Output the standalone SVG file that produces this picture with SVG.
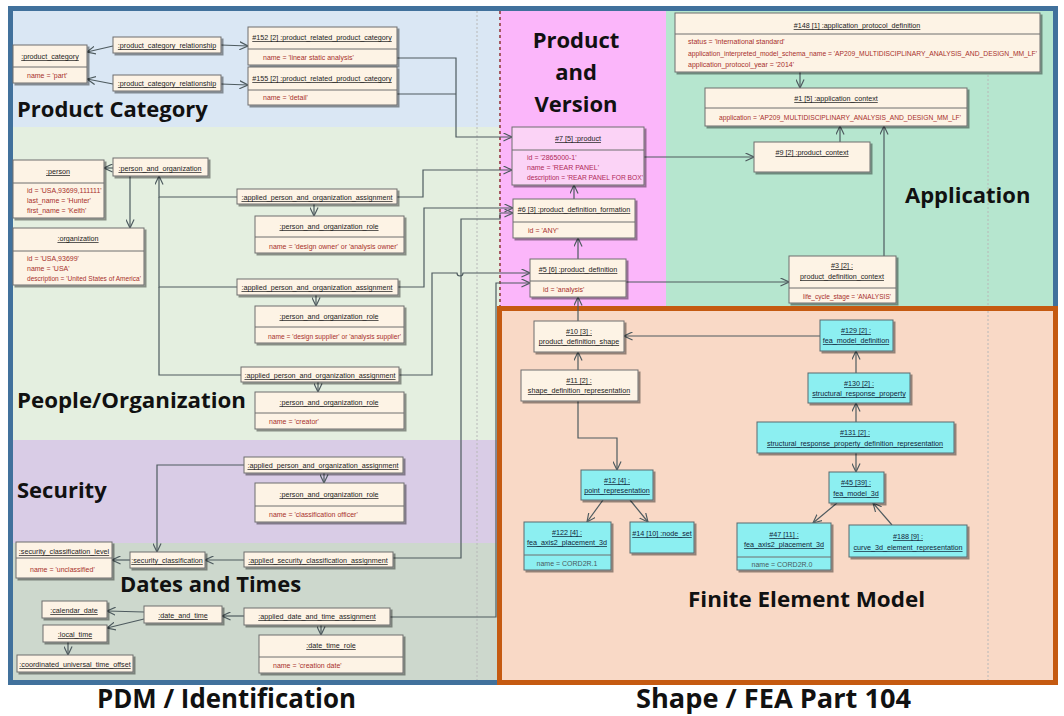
<svg xmlns="http://www.w3.org/2000/svg" width="1064" height="716" viewBox="0 0 1064 716">
<style>
.n{fill:#fdf3e5;stroke:#6e6e6e;stroke-width:1;filter:url(#sh)}
.nc{fill:#8ceff1;stroke:#5a6a6e;stroke-width:1;filter:url(#sh)}
.np{fill:#fbd3f6;stroke:#6e6e6e;stroke-width:1;filter:url(#sh)}
.sep{stroke:#6e6e6e;stroke-width:1}
.h{font-family:"Liberation Sans",Arial,sans-serif;font-size:7.2px;fill:#1c1c1c;text-anchor:middle;text-decoration:underline}
.hc{font-family:"Liberation Sans",Arial,sans-serif;font-size:7.2px;fill:#12243a;text-anchor:middle;text-decoration:underline}
.at{font-family:"Liberation Sans",Arial,sans-serif;font-size:7px;fill:#a8302c}
.atp{font-family:"Liberation Sans",Arial,sans-serif;font-size:7px;fill:#b02a5a}
.atc{font-family:"Liberation Sans",Arial,sans-serif;font-size:7px;fill:#4a5a60;text-anchor:middle}
.big{font-family:"Open Sans","Liberation Sans",sans-serif;font-weight:bold;font-size:22px;fill:#111}
.ft{font-family:"Open Sans","Liberation Sans",sans-serif;font-weight:bold;font-size:26px;fill:#111}
.cn path,.cn line{fill:none;stroke:#4e5b5f;stroke-width:1.2}
.ar{marker-end:url(#a)}
</style>
<defs>
<filter id="sh" x="-10%" y="-10%" width="130%" height="150%">
<feDropShadow dx="2" dy="2" stdDeviation="0.6" flood-color="#000" flood-opacity="0.4"/>
</filter>
<marker id="a" viewBox="0 0 10 10" refX="9.5" refY="5" markerWidth="9" markerHeight="9" orient="auto" markerUnits="userSpaceOnUse">
<path d="M0,0.5 L9.5,5 L0,9.5" fill="none" stroke="#4e5b5f" stroke-width="1.3"/>
</marker>
</defs>

<rect x="0" y="0" width="1064" height="716" fill="#ffffff"/>

<!-- bands -->
<g id="bands">
<rect x="10" y="9" width="490" height="118" fill="#dae7f4"/>
<rect x="10" y="127" width="490" height="313" fill="#e4efe0"/>
<rect x="10" y="440" width="490" height="103" fill="#d9cce6"/>
<rect x="10" y="543" width="490" height="140" fill="#cdd8cd"/>
<rect x="500" y="9" width="166" height="300" fill="#fbb6fa"/>
<rect x="666" y="9" width="390" height="300" fill="#b6e6cf"/>
<rect x="499" y="308" width="557" height="375" fill="#f9d9c6"/>
<line x1="477" y1="11" x2="477" y2="681" stroke="#b8b8b8" stroke-width="1" stroke-dasharray="2,2"/>
<line x1="988" y1="75" x2="988" y2="681" stroke="#b8b8b8" stroke-width="1" stroke-dasharray="2,2"/>
<line x1="500" y1="11" x2="500" y2="306" stroke="#a45a62" stroke-width="2" stroke-dasharray="3,3"/>
<rect x="10.5" y="8.5" width="1045" height="674" fill="none" stroke="#41719c" stroke-width="5"/>
<rect x="499.5" y="308.5" width="556" height="374" fill="none" stroke="#c55a11" stroke-width="5"/>
</g>

<!-- region labels -->
<g id="labels">
<text class="big" x="17" y="117">Product Category</text>
<text class="big" x="17" y="408" textLength="229" lengthAdjust="spacingAndGlyphs">People/Organization</text>
<text class="big" x="17" y="498">Security</text>
<text class="big" x="120" y="592">Dates and Times</text>
<text class="big" x="576" y="48" text-anchor="middle">Product</text>
<text class="big" x="576" y="80" text-anchor="middle">and</text>
<text class="big" x="576" y="112" text-anchor="middle">Version</text>
<text class="big" x="905" y="203">Application</text>
<text class="big" x="688" y="607" textLength="237" lengthAdjust="spacingAndGlyphs">Finite Element Model</text>
<text class="ft" x="97" y="708" textLength="259" lengthAdjust="spacingAndGlyphs">PDM / Identification</text>
<text class="ft" x="636" y="708" textLength="275" lengthAdjust="spacingAndGlyphs">Shape / FEA Part 104</text>
</g>

<!-- connectors -->
<g id="connectors" class="cn">
<path class="ar" d="M113,46 L87,52"/>
<path class="ar" d="M113,84 L87,79"/>
<path class="ar" d="M221,45 L248,46"/>
<path class="ar" d="M221,84 L248,85"/>
<path class="ar" d="M397,58 H456 V137 H512"/>
<path d="M397,94 H456"/>
<path class="ar" d="M113,168 L104,168"/>
<path class="ar" d="M130,176 V228"/>
<path class="ar" d="M237,197 H159 V176"/>
<path d="M237,287 H159 V197"/>
<path d="M241,375 H159 V287"/>
<path class="ar" d="M314,204 V216"/>
<path class="ar" d="M316,295 V306"/>
<path class="ar" d="M318,382 V392"/>
<path class="ar" d="M397,197 H423 V170 H512"/>
<path class="ar" d="M398,287 H424 V208 H513"/>
<path class="ar" d="M399,375 H432 V273 H457 A3,3 0 0 0 463,273 H530"/>
<path class="ar" d="M393,558 H461 V219 H500 V213 H513"/>
<path class="ar" d="M390,617 H496 V283 H530"/>
<path class="ar" d="M244,465 H157 V552"/>
<path class="ar" d="M130,560 H112"/>
<path class="ar" d="M244,560 H205"/>
<path class="ar" d="M324,473 V483"/>
<path class="ar" d="M321,625 V635"/>
<path class="ar" d="M144,612 L107,611"/>
<path class="ar" d="M144,619 L107,628"/>
<path class="ar" d="M244,616 H222"/>
<path class="ar" d="M68,642 V655"/>
<path class="ar" d="M574,199 V185"/>
<path class="ar" d="M578,259 V238"/>
<path class="ar" d="M578,321 V297"/>
<path class="ar" d="M644,157 H754"/>
<path class="ar" d="M626,282 H789"/>
<path class="ar" d="M800,72 V88"/>
<path class="ar" d="M840,142 V126"/>
<path class="ar" d="M884,256 V126"/>
<path class="ar" d="M578,370 V352"/>
<path class="ar" d="M578,401 V438 H617 V470"/>
<path class="ar" d="M603,500 L587,522"/>
<path class="ar" d="M630,500 L648,522"/>
<path class="ar" d="M820,336 H624"/>
<path class="ar" d="M856,373 V351"/>
<path class="ar" d="M856,422 V403"/>
<path class="ar" d="M856,453 V472"/>
<path class="ar" d="M837,503 L813,523"/>
<path class="ar" d="M892,525 L873,503"/>
</g>

<!-- Product Category -->
<g id="product_category">
<rect class="n" x="13" y="45" width="74" height="38"/>
<line class="sep" x1="13" y1="67" x2="87" y2="67"/>
<text class="h" x="50" y="59">:product_category</text>
<text class="at" x="27" y="78">name = 'part'</text>
</g>
<g id="pcr1">
<rect class="n" x="113" y="37" width="108" height="16"/>
<text class="h" x="167" y="48">:product_category_relationship</text>
</g>
<g id="pcr2">
<rect class="n" x="113" y="75" width="108" height="16"/>
<text class="h" x="167" y="86">:product_category_relationship</text>
</g>
<g id="n152">
<rect class="n" x="248" y="27" width="149" height="38"/>
<line class="sep" x1="248" y1="49" x2="397" y2="49"/>
<text class="h" x="322" y="40">#152 [2] :product_related_product_category</text>
<text class="at" x="263" y="60">name = 'linear static analysis'</text>
</g>
<g id="n155">
<rect class="n" x="248" y="67" width="149" height="38"/>
<line class="sep" x1="248" y1="90" x2="397" y2="90"/>
<text class="h" x="322" y="81">#155 [2] :product_related_product_category</text>
<text class="at" x="263" y="100">name = 'detail'</text>
</g>

<!-- People / Organization -->
<g id="person">
<rect class="n" x="13" y="160" width="91" height="58"/>
<line class="sep" x1="13" y1="183" x2="104" y2="183"/>
<text class="h" x="58" y="174">:person</text>
<text class="at" x="27" y="193">id = 'USA,93699,111111'</text>
<text class="at" x="27" y="203">last_name = 'Hunter'</text>
<text class="at" x="27" y="213">first_name = 'Keith'</text>
</g>
<g id="person_and_organization">
<rect class="n" x="113" y="158" width="95" height="18"/>
<text class="h" x="160" y="171">:person_and_organization</text>
</g>
<g id="organization">
<rect class="n" x="13" y="228" width="131" height="57"/>
<line class="sep" x1="13" y1="251" x2="144" y2="251"/>
<text class="h" x="78" y="241">:organization</text>
<text class="at" x="27" y="261">id = 'USA,93699'</text>
<text class="at" x="27" y="271">name = 'USA'</text>
<text class="at" x="27" y="281" textLength="114" lengthAdjust="spacingAndGlyphs">description = 'United States of America'</text>
</g>
<g id="assign1">
<rect class="n" x="237" y="189" width="160" height="15"/>
<text class="h" x="317" y="200">:applied_person_and_organization_assignment</text>
</g>
<g id="role1">
<rect class="n" x="255" y="216" width="149" height="37"/>
<line class="sep" x1="255" y1="237" x2="404" y2="237"/>
<text class="h" x="329" y="229">:person_and_organization_role</text>
<text class="at" x="269" y="249">name = 'design owner' or 'analysis owner'</text>
</g>
<g id="assign2">
<rect class="n" x="237" y="279" width="161" height="16"/>
<text class="h" x="317" y="290">:applied_person_and_organization_assignment</text>
</g>
<g id="role2">
<rect class="n" x="255" y="306" width="149" height="37"/>
<line class="sep" x1="255" y1="327" x2="404" y2="327"/>
<text class="h" x="329" y="319">:person_and_organization_role</text>
<text class="at" x="268" y="339" textLength="133" lengthAdjust="spacingAndGlyphs">name = 'design supplier' or 'analysis supplier'</text>
</g>
<g id="assign3">
<rect class="n" x="241" y="367" width="158" height="15"/>
<text class="h" x="320" y="378">:applied_person_and_organization_assignment</text>
</g>
<g id="role3">
<rect class="n" x="255" y="392" width="149" height="37"/>
<line class="sep" x1="255" y1="413" x2="404" y2="413"/>
<text class="h" x="329" y="405">:person_and_organization_role</text>
<text class="at" x="269" y="424">name = 'creator'</text>
</g>

<!-- Security -->
<g id="assign4">
<rect class="n" x="244" y="457" width="159" height="16"/>
<text class="h" x="323" y="468">:applied_person_and_organization_assignment</text>
</g>
<g id="role4">
<rect class="n" x="255" y="483" width="149" height="39"/>
<line class="sep" x1="255" y1="506" x2="404" y2="506"/>
<text class="h" x="329" y="497">:person_and_organization_role</text>
<text class="at" x="269" y="517">name = 'classification officer'</text>
</g>
<g id="security_assignment">
<rect class="n" x="244" y="552" width="149" height="15"/>
<text class="h" x="318" y="563">:applied_security_classification_assignment</text>
</g>
<g id="security_classification">
<rect class="n" x="130" y="552" width="75" height="16"/>
<text class="h" x="167" y="563">:security_classification</text>
</g>
<g id="security_classification_level">
<rect class="n" x="16" y="542" width="96" height="36"/>
<line class="sep" x1="16" y1="558" x2="112" y2="558"/>
<text class="h" x="64" y="554">:security_classification_level</text>
<text class="at" x="30" y="572">name = 'unclassified'</text>
</g>

<!-- Dates and Times -->
<g id="date_assignment">
<rect class="n" x="244" y="608" width="146" height="17"/>
<text class="h" x="317" y="619">:applied_date_and_time_assignment</text>
</g>
<g id="date_time_role">
<rect class="n" x="259" y="635" width="144" height="38"/>
<line class="sep" x1="259" y1="657" x2="403" y2="657"/>
<text class="h" x="331" y="648">:date_time_role</text>
<text class="at" x="273" y="668">name = 'creation date'</text>
</g>
<g id="date_and_time">
<rect class="n" x="144" y="606" width="78" height="17"/>
<text class="h" x="183" y="618">:date_and_time</text>
</g>
<g id="calendar_date">
<rect class="n" x="42" y="601" width="65" height="17"/>
<text class="h" x="74" y="613">:calendar_date</text>
</g>
<g id="local_time">
<rect class="n" x="43" y="625" width="64" height="17"/>
<text class="h" x="75" y="637">:local_time</text>
</g>
<g id="utc_offset">
<rect class="n" x="17" y="655" width="116" height="17"/>
<text class="h" x="75" y="667">:coordinated_universal_time_offset</text>
</g>

<!-- Product and Version -->
<g id="product">
<rect class="np" x="512" y="127" width="132" height="58"/>
<line class="sep" x1="512" y1="150" x2="644" y2="150"/>
<text class="h" x="578" y="141">#7 [5] :product</text>
<text class="atp" x="527" y="160">id = '2865000-1'</text>
<text class="atp" x="527" y="170">name = 'REAR PANEL'</text>
<text class="atp" x="527" y="180" textLength="116" lengthAdjust="spacingAndGlyphs">description = 'REAR PANEL FOR BOX'</text>
</g>
<g id="pdf">
<rect class="n" x="513" y="199" width="122" height="39"/>
<line class="sep" x1="513" y1="222" x2="635" y2="222"/>
<text class="h" x="574" y="212">#6 [3] :product_definition_formation</text>
<text class="at" x="528" y="233">id = 'ANY'</text>
</g>
<g id="pd">
<rect class="n" x="530" y="259" width="96" height="38"/>
<line class="sep" x1="530" y1="281" x2="626" y2="281"/>
<text class="h" x="578" y="272">#5 [6] :product_definition</text>
<text class="at" x="543" y="292">id = 'analysis'</text>
</g>

<!-- Application -->
<g id="apd">
<rect class="n" x="675" y="13" width="365" height="59"/>
<line class="sep" x1="675" y1="34" x2="1040" y2="34"/>
<text class="h" x="857" y="28">#148 [1] :application_protocol_definition</text>
<text class="at" x="688" y="44">status = 'international standard'</text>
<text class="at" x="688" y="56" textLength="349" lengthAdjust="spacingAndGlyphs">application_interpreted_model_schema_name = 'AP209_MULTIDISCIPLINARY_ANALYSIS_AND_DESIGN_MM_LF'</text>
<text class="at" x="688" y="67">application_protocol_year = '2014'</text>
</g>
<g id="app_context">
<rect class="n" x="705" y="88" width="262" height="38"/>
<line class="sep" x1="705" y1="108" x2="967" y2="108"/>
<text class="h" x="836" y="101">#1 [5] :application_context</text>
<text class="at" x="719" y="120" textLength="242" lengthAdjust="spacingAndGlyphs">application = 'AP209_MULTIDISCIPLINARY_ANALYSIS_AND_DESIGN_MM_LF'</text>
</g>
<g id="product_context">
<rect class="n" x="754" y="142" width="116" height="30"/>
<text class="h" x="812" y="155">#9 [2] :product_context</text>
</g>
<g id="pd_context">
<rect class="n" x="789" y="256" width="107" height="47"/>
<line class="sep" x1="789" y1="288" x2="896" y2="288"/>
<text class="h" x="842" y="268">#3 [2] :</text>
<text class="h" x="842" y="279">product_definition_context</text>
<text class="at" x="803" y="299" textLength="88" lengthAdjust="spacingAndGlyphs">life_cycle_stage = 'ANALYSIS'</text>
</g>

<!-- Finite Element Model -->
<g id="pds">
<rect class="n" x="534" y="321" width="90" height="31"/>
<text class="h" x="579" y="334">#10 [3] :</text>
<text class="h" x="579" y="344">product_definition_shape</text>
</g>
<g id="sdr">
<rect class="n" x="521" y="370" width="117" height="31"/>
<text class="h" x="579" y="383">#11 [2] :</text>
<text class="h" x="579" y="393">shape_definition_representation</text>
</g>
<g id="point_rep">
<rect class="nc" x="581" y="470" width="72" height="30"/>
<text class="hc" x="617" y="483">#12 [4] :</text>
<text class="hc" x="617" y="493">point_representation</text>
</g>
<g id="fea_axis_122">
<rect class="nc" x="524" y="522" width="87" height="48"/>
<line class="sep" x1="524" y1="555" x2="611" y2="555"/>
<text class="hc" x="567" y="535">#122 [4] :</text>
<text class="hc" x="567" y="545">fea_axis2_placement_3d</text>
<text class="atc" x="567" y="566">name = CORD2R.1</text>
</g>
<g id="node_set">
<rect class="nc" x="630" y="522" width="64" height="31"/>
<text class="hc" x="662" y="536">#14 [10] :node_set</text>
</g>
<g id="fea_model_definition">
<rect class="nc" x="820" y="320" width="73" height="31"/>
<text class="hc" x="856" y="333">#129 [2] :</text>
<text class="hc" x="856" y="343">fea_model_definition</text>
</g>
<g id="srp">
<rect class="nc" x="808" y="373" width="102" height="30"/>
<text class="hc" x="859" y="386">#130 [2] :</text>
<text class="hc" x="859" y="396">structural_response_property</text>
</g>
<g id="srpdr">
<rect class="nc" x="757" y="422" width="197" height="31"/>
<text class="hc" x="855" y="435">#131 [2] :</text>
<text class="hc" x="855" y="446">structural_response_property_definition_representation</text>
</g>
<g id="fea_model_3d">
<rect class="nc" x="829" y="472" width="55" height="31"/>
<text class="hc" x="856" y="485">#45 [39] :</text>
<text class="hc" x="856" y="496">fea_model_3d</text>
</g>
<g id="fea_axis_47">
<rect class="nc" x="737" y="523" width="94" height="47"/>
<line class="sep" x1="737" y1="557" x2="831" y2="557"/>
<text class="hc" x="784" y="537">#47 [11] :</text>
<text class="hc" x="784" y="547">fea_axis2_placement_3d</text>
<text class="atc" x="782" y="567">name = CORD2R.0</text>
</g>
<g id="curve_3d">
<rect class="nc" x="849" y="525" width="118" height="32"/>
<text class="hc" x="908" y="539">#188 [9] :</text>
<text class="hc" x="908" y="550">curve_3d_element_representation</text>
</g>
</svg>
